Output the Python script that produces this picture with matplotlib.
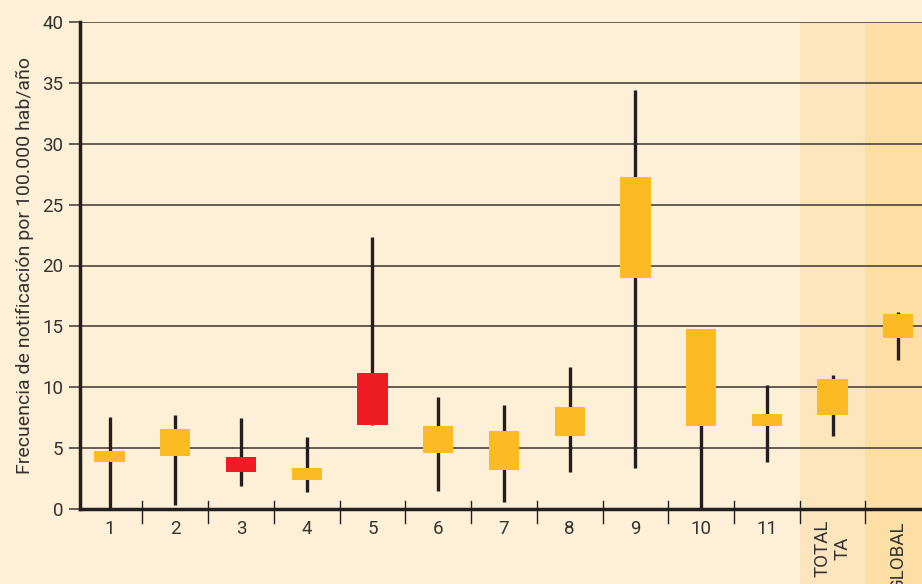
import matplotlib.pyplot as plt
import matplotlib.transforms as mtransforms
from matplotlib.patches import Rectangle

# data
labels = ['1', '2', '3', '4', '5', '6', '7', '8', '9', '10', '11', 'TOTAL\nTA', 'GLOBAL']
box_low = [3.87, 4.38, 3.0, 2.37, 6.88, 4.6, 3.17, 6.0, 18.95, 6.8, 6.8, 7.69, 14.06]
box_high = [4.76, 6.6, 4.27, 3.39, 11.2, 6.85, 6.37, 8.39, 27.3, 14.76, 7.82, 10.65, 16.05]
wh_low = [0.0, 0.3, 1.93, 1.37, 6.88, 1.45, 0.6, 3.0, 3.33, 0.0, 3.87, 6.0, 12.26]
wh_high = [7.55, 7.74, 7.47, 5.89, 22.3, 9.17, 8.55, 11.7, 34.4, 14.76, 10.16, 11.0, 16.15]
colors = ['#fdbb23', '#fdbb23', '#ee1c25', '#fdbb23', '#ee1c25', '#fdbb23', '#fdbb23',
          '#fdbb23', '#fdbb23', '#fdbb23', '#fdbb23', '#fdbb23', '#fdbb23']

bg = '#fdf0d6'
ink = '#231f20'
plt.rcParams['font.family'] = ['Roboto', 'DejaVu Sans']

fig = plt.figure(figsize=(9.22, 5.84), dpi=100, facecolor=bg)
ax = fig.add_axes([80 / 922, 75 / 584, 842 / 922, 487 / 584])
ax.set_facecolor(bg)

x = list(range(1, len(labels) + 1))
ax.set_xlim(0.55, 13.36)
ax.set_ylim(0, 40)

# shaded bands for TOTAL TA and GLOBAL
trans = mtransforms.blended_transform_factory(ax.transData, ax.transAxes)
ax.add_patch(Rectangle((11.5, -0.2), 1.0, 1.2, transform=trans, color='#fde6be',
                       clip_on=False, zorder=0, lw=0))
ax.add_patch(Rectangle((12.5, -0.2), 1.0, 1.2, transform=trans, color='#fddfa6',
                       clip_on=False, zorder=0, lw=0))

# gridlines
for yv in range(5, 45, 5):
    ax.axhline(yv, color='#4a4540', lw=1.2, zorder=1)

# whiskers and boxes
ax.vlines(x, wh_low, wh_high, color=ink, lw=2.4, zorder=2)
ax.bar(x, [h - l for h, l in zip(box_high, box_low)], bottom=box_low, width=0.46,
       color=colors, zorder=3)

# separator ticks crossing the x axis
for i in range(1, len(labels)):
    ax.plot([i + 0.5, i + 0.5], [-0.028, 0.017], transform=trans, color=ink,
            lw=1.0, clip_on=False, zorder=4)

ax.set_yticks(range(0, 45, 5))
ax.set_xticks(x)
ax.set_xticklabels(labels)
for t in ax.get_xticklabels()[-2:]:
    t.set_rotation(90)
    t.set_va('top')
    t.set_ha('center')
    t.set_multialignment('center')
ax.tick_params(axis='y', length=8, width=1.2, color='#4a4540', labelsize=13.5,
               labelcolor='#333333', pad=4)
ax.tick_params(axis='x', length=0, labelsize=13.5, labelcolor='#333333', pad=8)

for s in ['top', 'right']:
    ax.spines[s].set_visible(False)
for s in ['left', 'bottom']:
    ax.spines[s].set_color(ink)
    ax.spines[s].set_linewidth(2.5)
    ax.spines[s].set_zorder(5)

ax.set_ylabel('Frecuencia de notificación por 100.000 hab/año', fontsize=14,
              color='#333333', labelpad=6)

plt.savefig('out.png', dpi=100, facecolor=bg)
